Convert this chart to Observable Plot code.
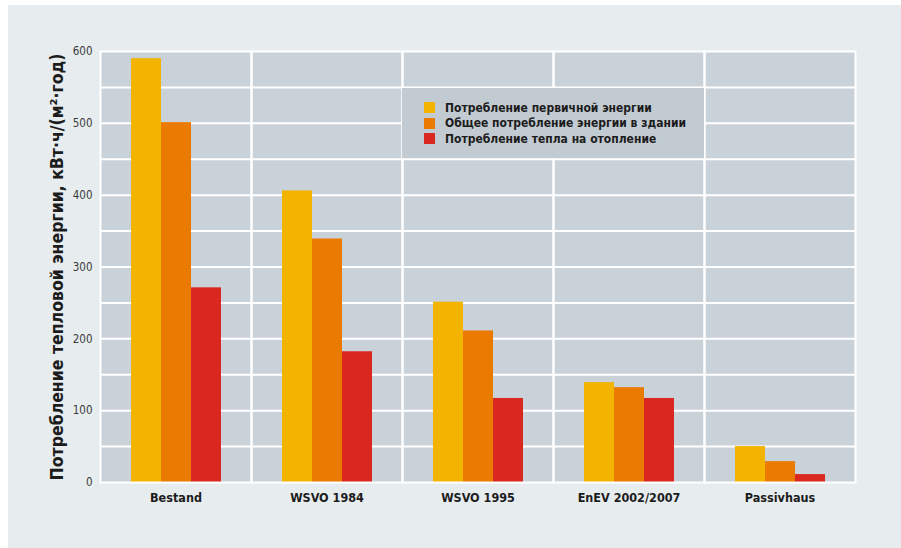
<!DOCTYPE html>
<html>
<head>
<meta charset="utf-8">
<script src="https://cdn.jsdelivr.net/npm/d3@7"></script>
<script src="https://cdn.jsdelivr.net/npm/@observablehq/plot@0.6"></script>
<style>
  html, body { margin: 0; padding: 0; background: #ffffff; }
  #wrap { position: relative; width: 901px; height: 548px; background: #ffffff; overflow: hidden; }
  #bg { position: absolute; left: 8px; top: 5px; right: 0; bottom: 0; background: #e7ecef; }
  #chart { position: absolute; left: 0; top: 0; }
  #legend {
    position: absolute; left: 402px; top: 88px; width: 302px; height: 70px;
    background: #c3cbd2; box-sizing: border-box; padding-top: 12px; padding-left: 22px;
    font-family: "DejaVu Sans Condensed", sans-serif;
    font-weight: bold; font-size: 12px; color: #1c1c1c; white-space: nowrap;
  }
  .item { display: flex; align-items: center; height: 15.5px; }
  .sw { width: 11px; height: 11px; margin-right: 10px; flex: none; }
</style>
</head>
<body>
<div id="wrap">
  <div id="bg"></div>
  <div id="chart"></div>
  <div id="legend"></div>
</div>
<script>
const categories = ["Bestand", "WSVO 1984", "WSVO 1995", "EnEV 2002/2007", "Passivhaus"];
const series = [
  "Потребление первичной энергии",
  "Общее потребление энергии в здании",
  "Потребление тепла на отопление"
];
const colors = ["#f2b400", "#eb7a00", "#da271f"];
const primaryEnergy = [590, 406, 251, 139, 50];
const buildingEnergy = [501, 339, 211, 132, 29];
const heatingEnergy = [271, 182, 117, 117, 11];
const yTicks = [0, 100, 200, 300, 400, 500, 600];
const yGrid = [50, 100, 150, 200, 250, 300, 350, 400, 450, 500, 550];
const yTitle = "Потребление тепловой энергии, кВт·ч/(м²·год)";

const valuesBySeries = [primaryEnergy, buildingEnergy, heatingEnergy];
const data = [];
categories.forEach((c, i) => {
  series.forEach((s, j) => data.push({category: c, series: s, value: valuesBySeries[j][i]}));
});

const chart = Plot.plot({
  width: 901,
  height: 548,
  marginTop: 51,
  marginBottom: 66,
  marginLeft: 99,
  marginRight: 46,
  style: {background: "transparent", fontFamily: "'DejaVu Sans Condensed', sans-serif", fontSize: "12px", color: "#333"},
  fx: {domain: categories, padding: 0, label: null},
  x: {domain: series, paddingInner: 0, paddingOuter: 1, axis: null},
  y: {domain: [0, 600], label: null},
  color: {domain: series, range: colors},
  marks: [
    Plot.frame({fill: "#cad2d9"}),
    Plot.ruleY(yGrid, {stroke: "#ffffff", strokeWidth: 2}),
    Plot.barY(data, {fx: "category", x: "series", y: "value", fill: "series", inset: 0}),
    Plot.frame({stroke: "#ffffff", strokeWidth: 2}),
    Plot.axisY({ticks: yTicks, tickSize: 0, tickPadding: 8, fontSize: 11.5, fill: "#3a3a3a",
      label: yTitle, labelAnchor: "center", labelArrow: "none", labelOffset: 50}),
    Plot.axisFx({anchor: "bottom", tickSize: 0, tickPadding: 11, fontSize: 12.5, fontWeight: "bold", fill: "#1c1c1c", label: null})
  ]
});

const svg = d3.select(chart);
svg.selectAll('g[aria-label="y-axis label"]')
  .attr("font-size", 17.5)
  .attr("font-weight", "bold")
  .attr("font-family", "'DejaVu Sans Condensed', sans-serif")
  .attr("fill", "#1c1c1c");
svg.selectAll('g[aria-label="y-axis label"] text')
  .attr("font-size", 17.5).attr("font-weight", "bold").attr("fill", "#1c1c1c");

document.getElementById("chart").appendChild(chart);

const legend = d3.select("#legend");
series.forEach((s, i) => {
  const it = legend.append("div").attr("class", "item");
  it.append("div").attr("class", "sw").style("background", colors[i]);
  it.append("span").text(s);
});
</script>
</body>
</html>
